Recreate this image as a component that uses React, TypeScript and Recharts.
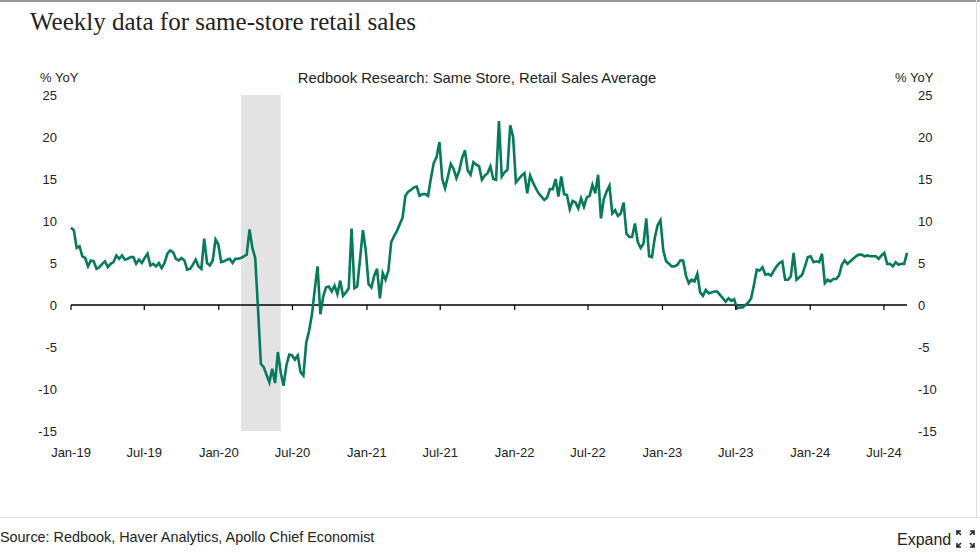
import { ComposedChart, Line, XAxis, YAxis, ReferenceArea, ReferenceLine } from 'recharts'

// weekly % YoY (one value per week from early Jan-19)
const y2019 = [
  9.2, 8.9, 6.8, 7.0, 5.8, 5.6, 4.6, 5.3, 5.2, 4.3, 4.5, 4.9, 5.2, 4.5, 4.9, 5.1, 5.9, 5.5, 5.9, 5.4,
  5.5, 5.7, 5.7, 4.9, 5.4, 5.0, 5.6, 6.1, 4.7, 4.9, 4.6, 5.0, 4.4, 5.0, 6.1, 6.5, 6.3, 5.5, 5.3, 5.6,
  5.3, 4.2, 4.3, 4.8, 5.4, 4.6, 4.3, 7.9, 5.0, 4.7, 5.3, 7.8,
]
const y2020 = [
  7.2, 5.1, 5.2, 5.4, 5.5, 5.0, 5.5, 5.5, 5.6, 5.8, 6.0, 9.0, 6.8, 5.6, -0.5, -7.0, -7.4, -8.3, -9.2, -7.6,
  -9.3, -5.6, -8.0, -9.6, -7.2, -5.9, -6.0, -6.5, -6.0, -8.0, -8.4, -4.5, -3.1, -1.2, 1.8, 4.6, -1.1, 1.0, 2.1, 2.2,
  1.6, 2.3, 1.3, 2.9, 1.1, 1.5, 2.0, 9.1, 2.0, 2.2, 5.5, 8.9,
]
const y2021 = [
  6.5, 2.5, 2.1, 3.5, 4.3, 0.8, 3.8, 3.0, 4.1, 7.5, 8.2, 8.8, 9.6, 10.4, 13.0, 13.5, 13.7, 14.0, 14.1, 13.0,
  13.2, 13.2, 13.0, 15.1, 16.9, 17.6, 19.4, 15.0, 13.9, 15.3, 16.8, 16.2, 15.1, 16.0, 17.5, 18.4, 16.0, 15.5, 17.0, 16.7,
  16.5, 14.9, 15.4, 15.7, 16.5, 15.0, 14.9, 21.9, 15.3, 15.8, 16.1, 21.4,
]
const y2022 = [
  20.0, 14.6, 15.0, 15.4, 15.7, 13.3, 15.4, 14.6, 13.9, 13.3, 12.9, 12.5, 12.8, 13.8, 13.8, 15.0, 12.9, 15.3, 13.2, 13.1,
  11.4, 12.4, 12.2, 11.5, 12.7, 11.7, 12.8, 13.0, 14.3, 13.3, 15.5, 10.3, 12.6, 13.5, 14.2, 10.9, 11.3, 10.6, 10.9, 12.2,
  8.5, 8.1, 8.1, 9.7, 7.5, 6.8, 7.3, 10.3, 5.8, 5.7, 8.0, 9.5,
]
const y2023 = [
  10.1, 6.5, 5.2, 4.9, 4.6, 4.6, 4.8, 5.3, 5.3, 3.5, 2.6, 3.0, 2.8, 3.7, 1.5, 1.1, 1.8, 1.4, 1.5, 1.6,
  1.6, 1.2, 0.8, 0.4, 0.8, 0.5, 0.7, -0.4, -0.3, -0.3, 0.0, 0.3, 0.8, 2.4, 4.2, 4.1, 4.5, 3.6, 3.7, 3.5,
  4.1, 4.6, 5.0, 5.2, 3.0, 3.0, 3.4, 6.2, 3.0, 3.3, 3.6, 4.6,
]
const y2024 = [
  5.7, 5.8, 5.1, 5.2, 5.1, 6.1, 2.6, 3.0, 2.8, 3.1, 3.1, 3.5, 4.8, 5.3, 4.9, 5.2, 5.5, 5.8, 6.0, 6.0,
  5.8, 5.9, 5.8, 5.8, 5.8, 5.5, 5.9, 6.2, 4.9, 4.9, 4.6, 5.1, 4.8, 4.9, 4.9, 6.2,
]

const tickMonths = [
  '2019-01-01', '2019-07-01', '2020-01-01', '2020-07-01', '2021-01-01', '2021-07-01',
  '2022-01-01', '2022-07-01', '2023-01-01', '2023-07-01', '2024-01-01', '2024-07-01',
]
const tickLabels = ['Jan-19', 'Jul-19', 'Jan-20', 'Jul-20', 'Jan-21', 'Jul-21', 'Jan-22', 'Jul-22', 'Jan-23', 'Jul-23', 'Jan-24', 'Jul-24']
const yTicks = [-15, -10, -5, 0, 5, 10, 15, 20, 25]
const recession = ['2020-02-25', '2020-06-02']

const START = Date.UTC(2019, 0, 1)
const toDay = (s: string) => Math.round((Date.parse(s) - START) / 86400000)

const sales = [...y2019, ...y2020, ...y2021, ...y2022, ...y2023, ...y2024]
const data = sales.map((v, i) => ({ day: i * 7, v }))
const tickDays = tickMonths.map(toDay)

const W = 980
const H = 556
const TOP = 95
const BOTTOM = 431
const ZERO_Y = TOP + ((BOTTOM - TOP) * 25) / 40
const GREEN = '#077a5b'
const SANS = "'Liberation Sans', Arial, sans-serif"

function XTick(props: any) {
  const { x, payload } = props
  const idx = tickDays.indexOf(payload.value)
  return (
    <g>
      <line x1={x} x2={x} y1={ZERO_Y} y2={ZERO_Y + 5} stroke="#000" strokeWidth={1.2} />
      <text x={x} y={452} textAnchor="middle" dominantBaseline="central" fontSize={13} fill="#222" fontFamily={SANS}>
        {idx >= 0 ? tickLabels[idx] : ''}
      </text>
    </g>
  )
}

export default function App() {
  return (
    <div style={{ position: 'absolute', left: 0, top: 0, width: W, height: H, background: '#fff', overflow: 'hidden' }}>
      <ComposedChart width={W} height={H} data={data} margin={{ top: TOP, right: 0, bottom: 0, left: 0 }}>
        <XAxis
          dataKey="day"
          type="number"
          domain={[0, sales.length * 7 - 7]}
          ticks={tickDays}
          interval={0}
          height={H - BOTTOM}
          axisLine={false}
          tickLine={false}
          tick={<XTick />}
        />
        <YAxis
          yAxisId="left"
          domain={[-15, 25]}
          ticks={yTicks}
          width={71}
          axisLine={false}
          tickLine={false}
          tickSize={0}
          tickMargin={14}
          tick={{ fontSize: 13, fill: '#222', fontFamily: SANS }}
        />
        <YAxis
          yAxisId="right"
          orientation="right"
          domain={[-15, 25]}
          ticks={yTicks}
          width={73}
          axisLine={false}
          tickLine={false}
          tickSize={0}
          tickMargin={11}
          tick={{ fontSize: 13, fill: '#222', fontFamily: SANS, textAnchor: 'start' }}
        />
        <ReferenceArea yAxisId="left" x1={toDay(recession[0])} x2={toDay(recession[1])} y1={-15} y2={25} fill="#e3e3e3" fillOpacity={1} stroke="none" />
        <ReferenceLine yAxisId="left" y={0} stroke="#000" strokeWidth={1.3} />
        {/* same series on the right scale, drawn invisibly so the right axis gets its ticks */}
        <Line yAxisId="right" type="linear" dataKey="v" stroke="none" strokeOpacity={0} dot={false} activeDot={false} isAnimationActive={false} />
        <Line yAxisId="left" type="linear" dataKey="v" stroke={GREEN} strokeWidth={2.6} dot={false} isAnimationActive={false} />
      </ComposedChart>

      <svg width={W} height={H} style={{ position: 'absolute', left: 0, top: 0, pointerEvents: 'none' }}>
        <line x1={0} x2={W} y1={1} y2={1} stroke="#999" strokeWidth={2} />
        <line x1={976.5} x2={976.5} y1={0} y2={517} stroke="#ddd" strokeWidth={1} />
        <line x1={0} x2={W} y1={517.5} y2={517.5} stroke="#e2e2e2" strokeWidth={1} />
        <text x={30} y={30} fontSize={25} fill="#222" fontFamily="'Liberation Serif', 'Times New Roman', serif">
          Weekly data for same-store retail sales
        </text>
        <text x={40} y={77} dominantBaseline="central" fontSize={13} fill="#222" fontFamily={SANS}>% YoY</text>
        <text x={477} y={78} textAnchor="middle" dominantBaseline="central" fontSize={14.8} fill="#222" fontFamily={SANS}>
          Redbook Research: Same Store, Retail Sales Average
        </text>
        <text x={895} y={77} dominantBaseline="central" fontSize={13} fill="#222" fontFamily={SANS}>% YoY</text>
        <text x={0} y={537} dominantBaseline="central" fontSize={14.4} fill="#222" fontFamily={SANS}>
          Source: Redbook, Haver Analytics, Apollo Chief Economist
        </text>
        <text x={897} y={539} dominantBaseline="central" fontSize={16} fill="#222" fontFamily={SANS}>Expand</text>
        <g stroke="#222" strokeWidth={1.6} fill="none">
          <path d="M957 535 v-4 h4 M957 531 l4 4" />
          <path d="M974 535 v-4 h-4 M974 531 l-4 4" />
          <path d="M957 543 v4 h4 M957 547 l4 -4" />
          <path d="M974 543 v4 h-4 M974 547 l-4 -4" />
        </g>
      </svg>
    </div>
  )
}
